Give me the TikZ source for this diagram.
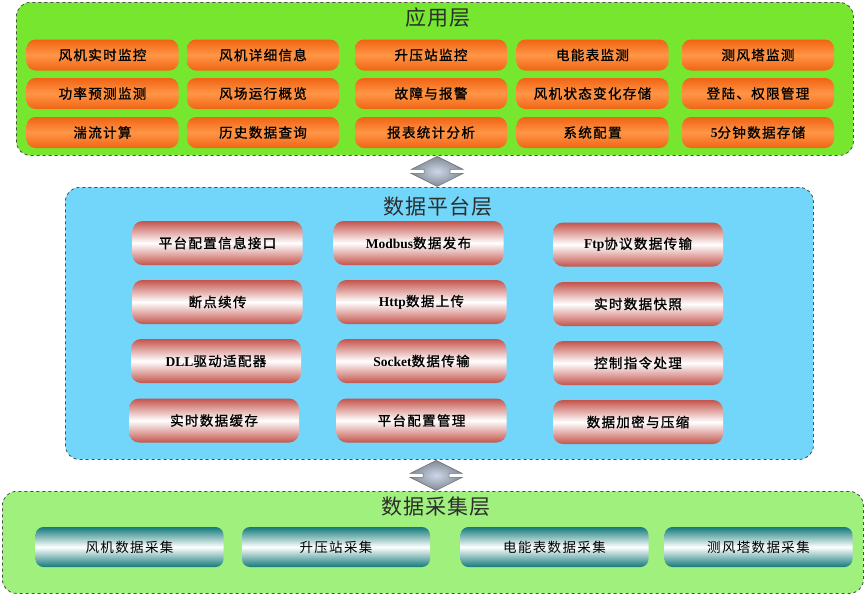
\documentclass[tikz,border=0pt]{standalone}
\usepackage{fontspec}
\setmainfont{Noto Sans CJK SC}
\newfontfamily\boxf[LetterSpace=10]{Noto Sans CJK SC}
\newfontfamily\boxbf[LetterSpace=10,FakeBold=1.2]{Noto Sans CJK SC}
\newfontfamily\titf[LetterSpace=4]{Noto Sans CJK SC}
\newfontfamily\latf{Liberation Serif}
\usetikzlibrary{calc}
\definecolor{appc}{RGB}{118,230,46}
\definecolor{platc}{RGB}{114,214,250}
\definecolor{acqc}{RGB}{160,240,126}
\definecolor{orgd}{RGB}{240,100,20}
\definecolor{orgl}{RGB}{255,150,70}
\definecolor{redd}{RGB}{196,84,76}
\definecolor{tealc}{RGB}{20,122,122}
\definecolor{linkc}{RGB}{128,136,148}
\definecolor{linkl}{RGB}{205,215,232}
\definecolor{titc}{RGB}{45,45,45}

\tikzset{
  layer/.style={draw=black!70, dashed, line width=0.8pt, rounded corners=14pt,
    anchor=north west, inner sep=0pt},
  laytitle/.style={text=titc, font=\titf\fontsize{21}{21}\selectfont, inner sep=0pt},
  appbox/.style={rounded corners=9pt, minimum width=152pt, minimum height=31pt,
    top color=orgd, bottom color=orgd, middle color=orgl, inner sep=0pt,
    font=\boxbf\fontsize{13.5}{13.5}\selectfont},
  platbox/.style={rounded corners=10pt, minimum width=170pt, minimum height=44pt,
    top color=redd, bottom color=redd, middle color=white, inner sep=0pt,
    font=\boxbf\fontsize{13.5}{13.5}\selectfont},
  acqbox/.style={rounded corners=8pt, minimum width=188pt, minimum height=40pt,
    top color=tealc, bottom color=tealc, middle color=white, inner sep=0pt,
    font=\boxf\fontsize{13.5}{13.5}\selectfont},
  link/.style={inner color=linkl, outer color=linkc, draw=black!55, line width=0.6pt}
}
% double-headed link between two layers, #1 = centre
\newcommand{\layerlink}[1]{%
  \shade[link] (#1) ++(0,-15) -- ++(26,13) -- ++(-13,0) -- ++(0,4) -- ++(13,0)
    -- ++(-26,13) -- ++(-26,-13) -- ++(13,0) -- ++(0,-4) -- ++(-13,0) -- cycle;}

\begin{document}
\begin{tikzpicture}[x=1pt,y=-1pt]
  \useasboundingbox (0,0) rectangle (865,595);
  % layers
  \node[layer, fill=appc, minimum width=837pt, minimum height=153pt] (app) at (16,2) {};
  \node[layer, fill=platc, minimum width=748pt, minimum height=272pt] (plat) at (65,187) {};
  \node[layer, fill=acqc, minimum width=861pt, minimum height=102pt] (acq) at (2,491) {};
  \node[laytitle] (apptit) at (438,18) {应用层};
  \node[laytitle] (plattit) at (438,207) {数据平台层};
  \node[laytitle] (acqtit) at (436,507) {数据采集层};
  % application layer: row 1
  \node[appbox] (a1) at (102.5,55) {风机实时监控};
  \node[appbox] (a2) at (263,55) {风机详细信息};
  \node[appbox] (a3) at (431,55) {升压站监控};
  \node[appbox] (a4) at (592.5,55) {电能表监测};
  \node[appbox] (a5) at (758,55) {测风塔监测};
  % row 2
  \node[appbox] (a6) at (102.5,93.5) {功率预测监测};
  \node[appbox] (a7) at (263,93.5) {风场运行概览};
  \node[appbox] (a8) at (431,93.5) {故障与报警};
  \node[appbox] (a9) at (592.5,93.5) {风机状态变化存储};
  \node[appbox] (a10) at (758,93.5) {登陆、权限管理};
  % row 3
  \node[appbox] (a11) at (102.5,132.5) {湍流计算};
  \node[appbox] (a12) at (263,132.5) {历史数据查询};
  \node[appbox] (a13) at (431,132.5) {报表统计分析};
  \node[appbox] (a14) at (592.5,132.5) {系统配置};
  \node[appbox] (a15) at (758,132.5) {{\latf\bfseries 5}分钟数据存储};
  % data platform layer: column 1
  \node[platbox] (p1) at (217.5,243) {平台配置信息接口};
  \node[platbox] (p2) at (217.5,302) {断点续传};
  \node[platbox] (p3) at (216,361) {{\latf\bfseries DLL}驱动适配器};
  \node[platbox] (p4) at (214,420.5) {实时数据缓存};
  % column 2
  \node[platbox] (p5) at (418.5,243) {{\latf\bfseries Modbus}数据发布};
  \node[platbox] (p6) at (421.5,302) {{\latf\bfseries Http}数据上传};
  \node[platbox] (p7) at (421.5,361) {{\latf\bfseries Socket}数据传输};
  \node[platbox] (p8) at (421.5,420.5) {平台配置管理};
  % column 3
  \node[platbox] (p9) at (638,244.5) {{\latf\bfseries Ftp}协议数据传输};
  \node[platbox] (p10) at (638,304) {实时数据快照};
  \node[platbox] (p11) at (638,363) {控制指令处理};
  \node[platbox] (p12) at (638,422) {数据加密与压缩};
  % data acquisition layer
  \node[acqbox] (c1) at (129.5,547) {风机数据采集};
  \node[acqbox] (c2) at (336,547) {升压站采集};
  \node[acqbox] (c3) at (554.5,547) {电能表数据采集};
  \node[acqbox] (c4) at (758.5,547) {测风塔数据采集};
  % links between layers
  \layerlink{$(app.south)!0.5!(plat.north)$}
  \layerlink{$(plat.south)!0.5!(acq.north)$}
\end{tikzpicture}
\end{document}
